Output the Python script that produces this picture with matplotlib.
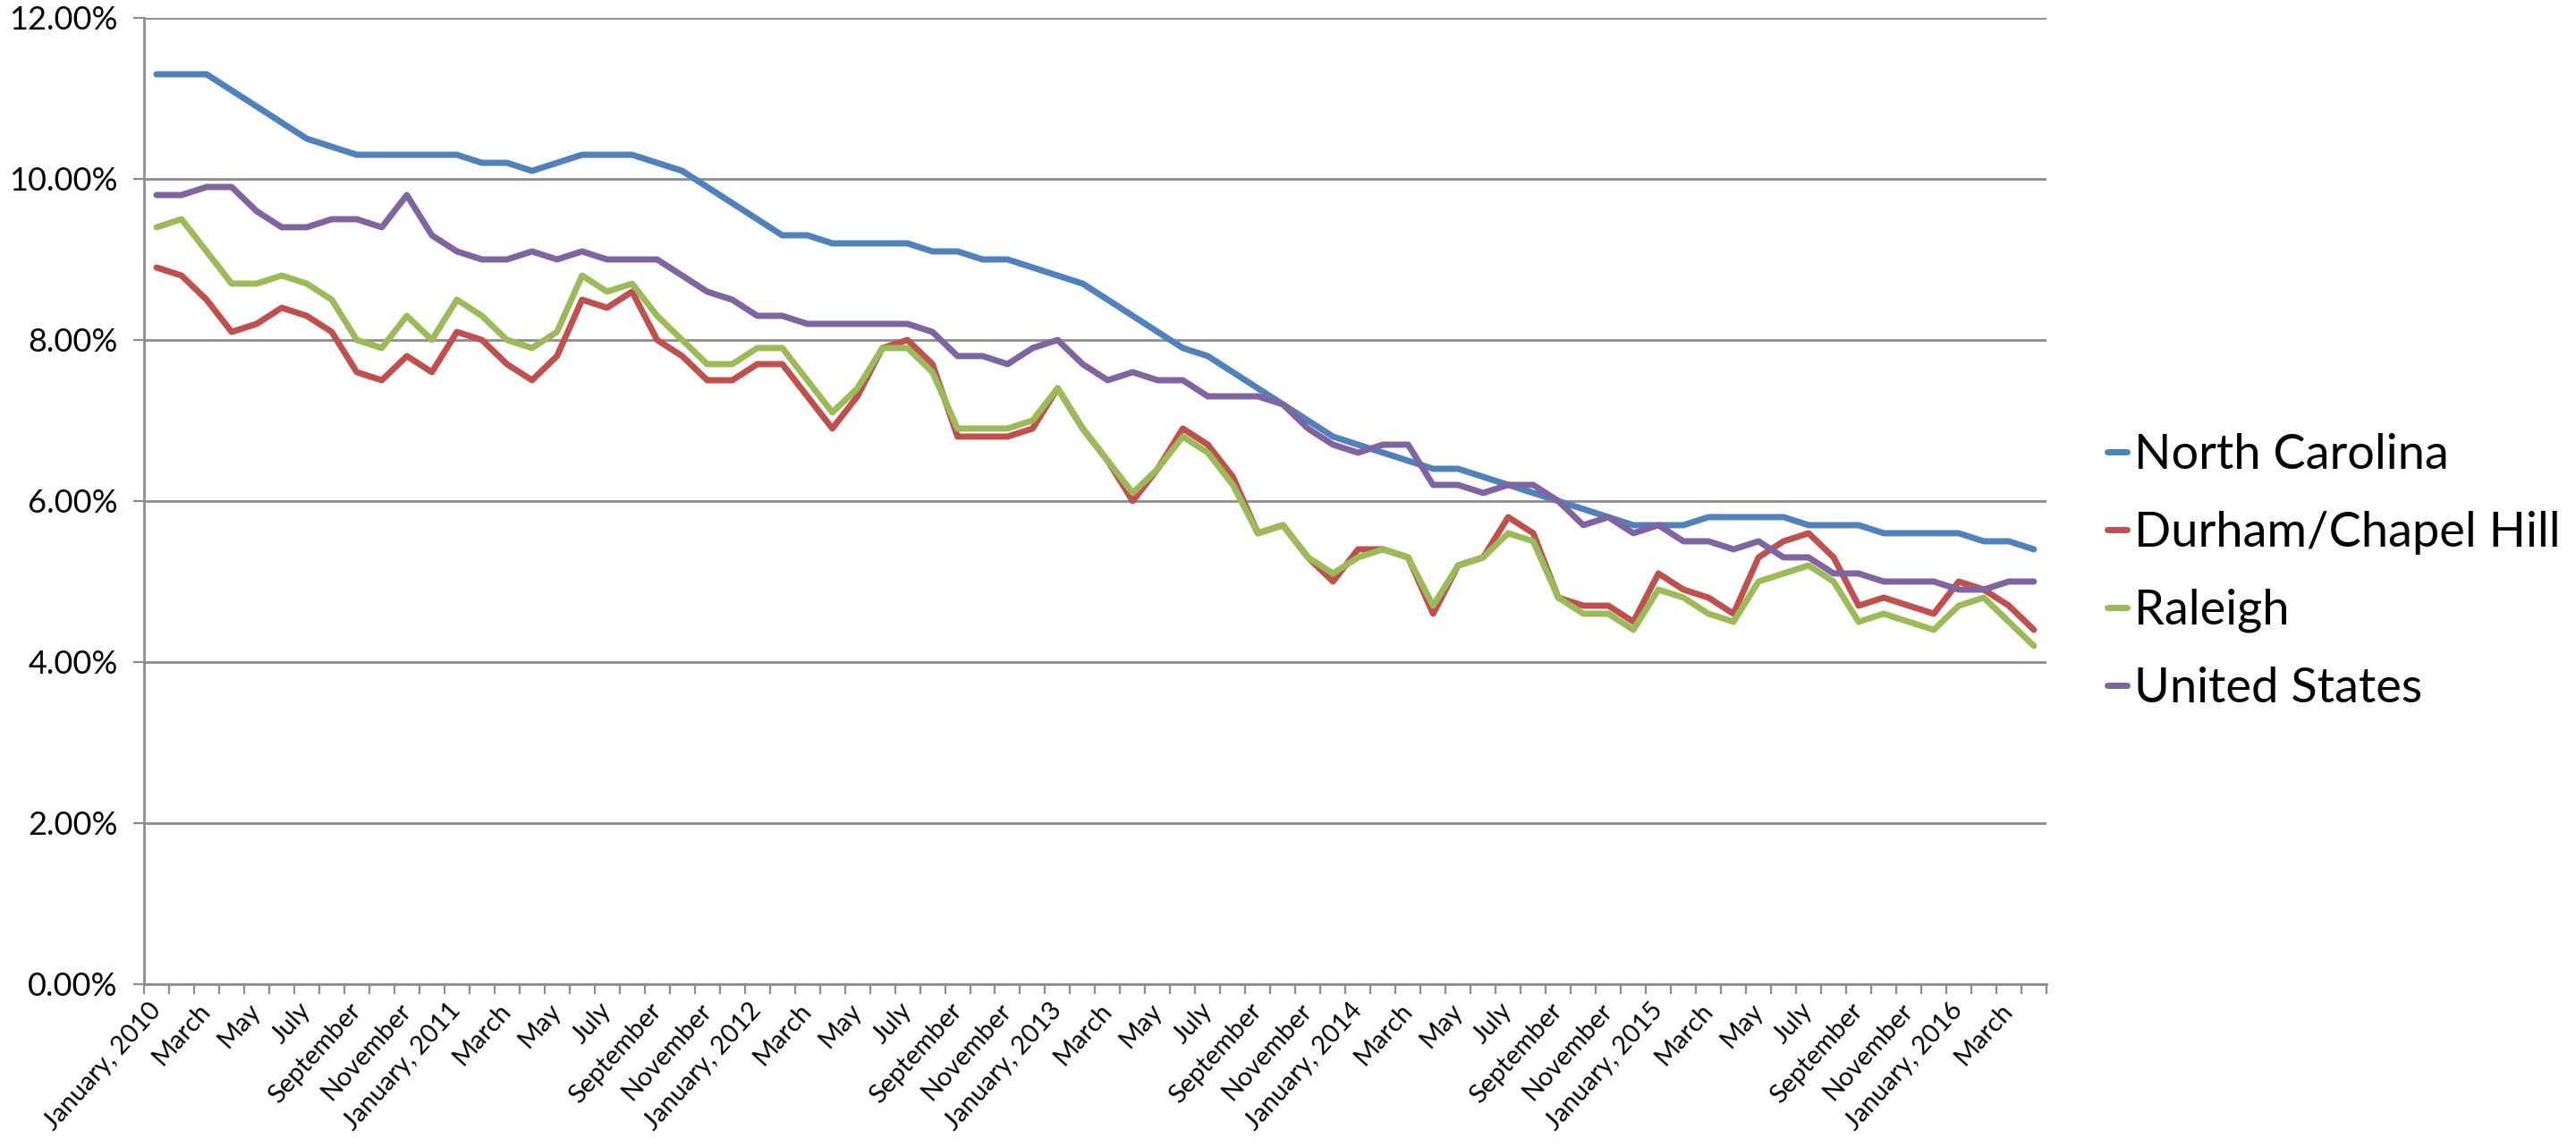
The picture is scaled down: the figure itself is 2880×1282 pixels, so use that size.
import numpy as np
import matplotlib
matplotlib.use('Agg')
import matplotlib.pyplot as plt

plt.rcParams['font.family'] = ['Lato', 'DejaVu Sans']

# monthly unemployment rate (%), January 2010 - April 2016
north_carolina = [11.3, 11.3, 11.3, 11.1, 10.9, 10.7, 10.5, 10.4, 10.3, 10.3, 10.3, 10.3,
                  10.3, 10.2, 10.2, 10.1, 10.2, 10.3, 10.3, 10.3, 10.2, 10.1, 9.9, 9.7,
                  9.5, 9.3, 9.3, 9.2, 9.2, 9.2, 9.2, 9.1, 9.1, 9.0, 9.0, 8.9,
                  8.8, 8.7, 8.5, 8.3, 8.1, 7.9, 7.8, 7.6, 7.4, 7.2, 7.0, 6.8,
                  6.7, 6.6, 6.5, 6.4, 6.4, 6.3, 6.2, 6.1, 6.0, 5.9, 5.8, 5.7,
                  5.7, 5.7, 5.8, 5.8, 5.8, 5.8, 5.7, 5.7, 5.7, 5.6, 5.6, 5.6,
                  5.6, 5.5, 5.5, 5.4]
durham = [8.9, 8.8, 8.5, 8.1, 8.2, 8.4, 8.3, 8.1, 7.6, 7.5, 7.8, 7.6,
          8.1, 8.0, 7.7, 7.5, 7.8, 8.5, 8.4, 8.6, 8.0, 7.8, 7.5, 7.5,
          7.7, 7.7, 7.3, 6.9, 7.3, 7.9, 8.0, 7.7, 6.8, 6.8, 6.8, 6.9,
          7.4, 6.9, 6.5, 6.0, 6.4, 6.9, 6.7, 6.3, 5.6, 5.7, 5.3, 5.0,
          5.4, 5.4, 5.3, 4.6, 5.2, 5.3, 5.8, 5.6, 4.8, 4.7, 4.7, 4.5,
          5.1, 4.9, 4.8, 4.6, 5.3, 5.5, 5.6, 5.3, 4.7, 4.8, 4.7, 4.6,
          5.0, 4.9, 4.7, 4.4]
raleigh = [9.4, 9.5, 9.1, 8.7, 8.7, 8.8, 8.7, 8.5, 8.0, 7.9, 8.3, 8.0,
           8.5, 8.3, 8.0, 7.9, 8.1, 8.8, 8.6, 8.7, 8.3, 8.0, 7.7, 7.7,
           7.9, 7.9, 7.5, 7.1, 7.4, 7.9, 7.9, 7.6, 6.9, 6.9, 6.9, 7.0,
           7.4, 6.9, 6.5, 6.1, 6.4, 6.8, 6.6, 6.2, 5.6, 5.7, 5.3, 5.1,
           5.3, 5.4, 5.3, 4.7, 5.2, 5.3, 5.6, 5.5, 4.8, 4.6, 4.6, 4.4,
           4.9, 4.8, 4.6, 4.5, 5.0, 5.1, 5.2, 5.0, 4.5, 4.6, 4.5, 4.4,
           4.7, 4.8, 4.5, 4.2]
united_states = [9.8, 9.8, 9.9, 9.9, 9.6, 9.4, 9.4, 9.5, 9.5, 9.4, 9.8, 9.3,
                 9.1, 9.0, 9.0, 9.1, 9.0, 9.1, 9.0, 9.0, 9.0, 8.8, 8.6, 8.5,
                 8.3, 8.3, 8.2, 8.2, 8.2, 8.2, 8.2, 8.1, 7.8, 7.8, 7.7, 7.9,
                 8.0, 7.7, 7.5, 7.6, 7.5, 7.5, 7.3, 7.3, 7.3, 7.2, 6.9, 6.7,
                 6.6, 6.7, 6.7, 6.2, 6.2, 6.1, 6.2, 6.2, 6.0, 5.7, 5.8, 5.6,
                 5.7, 5.5, 5.5, 5.4, 5.5, 5.3, 5.3, 5.1, 5.1, 5.0, 5.0, 5.0,
                 4.9, 4.9, 5.0, 5.0]

series_names = ['North Carolina', 'Durham/Chapel Hill', 'Raleigh', 'United States']
series_colors = ['#4F81BD', '#C0504D', '#9BBB59', '#8064A2']

month_names = ['January', 'February', 'March', 'April', 'May', 'June', 'July',
               'August', 'September', 'October', 'November', 'December']
tick_labels = []
for k in range(0, len(north_carolina), 2):
    year = 2010 + k // 12
    m = month_names[k % 12]
    tick_labels.append(m + ', ' + str(year) if k % 12 == 0 else m)

grey = '#8C8C8C'
fig = plt.figure(figsize=(28.8, 12.82), dpi=100)
ax = fig.add_axes([0.0559, 0.142, 0.7385, 0.8424])

x = np.arange(len(north_carolina))
for vals, name, col in zip([north_carolina, durham, raleigh, united_states], series_names, series_colors):
    ax.plot(x, vals, color=col, lw=5, label=name, solid_joinstyle='round', solid_capstyle='round')

ax.set_xlim(-0.5, len(x) - 0.5)
ax.set_ylim(0, 12)
ax.set_yticks(np.arange(0, 13, 2))
ax.set_yticklabels(['%.2f%%' % v for v in np.arange(0, 13, 2)], fontsize=26)
ax.yaxis.grid(True, color=grey, lw=2)
ax.set_axisbelow(True)

# tick marks between categories, labels on every other month
ax.set_xticks(np.arange(-0.5, len(x), 1))
ax.set_xticklabels([])
ax.set_xticks(np.arange(0, len(x), 2), minor=True)
ax.set_xticklabels(tick_labels, minor=True, rotation=48, ha='right', va='center',
                   rotation_mode='anchor', fontsize=21)
ax.tick_params(axis='x', which='major', length=8, width=1.6, color=grey, direction='out')
ax.tick_params(axis='x', which='minor', length=0, pad=18)
ax.tick_params(axis='y', length=9, width=1.6, color=grey, pad=12)

for s in ['top', 'right']:
    ax.spines[s].set_visible(False)
for s in ['left', 'bottom']:
    ax.spines[s].set_color(grey)
    ax.spines[s].set_linewidth(2)

fig.legend(loc='center left', bbox_to_anchor=(0.818, 0.5016), frameon=False, fontsize=39,
           handlelength=0.4, handletextpad=0.15, labelspacing=0.7, borderpad=0, borderaxespad=0)

fig.savefig('out.png', dpi=100)
